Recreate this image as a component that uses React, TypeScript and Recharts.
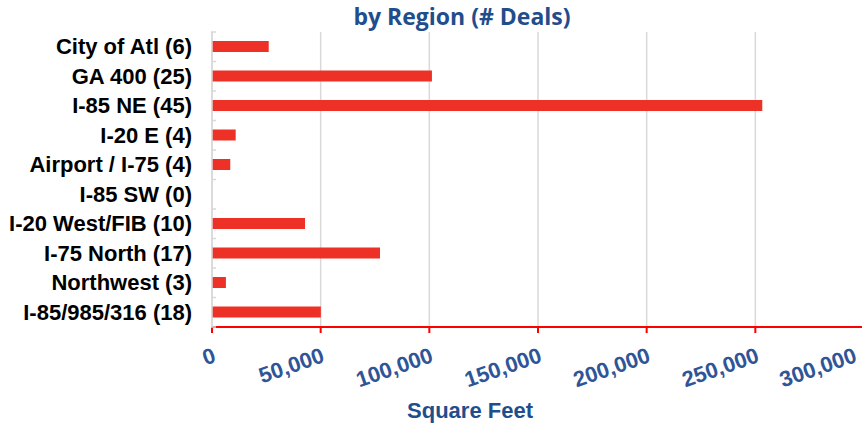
import { BarChart, Bar, XAxis, YAxis, CartesianGrid } from 'recharts';

const regions = [
  'City of Atl (6)',
  'GA 400 (25)',
  'I-85 NE (45)',
  'I-20 E (4)',
  'Airport / I-75 (4)',
  'I-85 SW (0)',
  'I-20 West/FIB (10)',
  'I-75 North (17)',
  'Northwest (3)',
  'I-85/985/316 (18)',
];

const squareFeet = [26100, 101200, 253200, 10900, 8400, 0, 42800, 77300, 6400, 50100];

const xTicks = [0, 50000, 100000, 150000, 200000, 250000, 300000];

const data = regions.map((name, i) => ({ name, sqft: squareFeet[i] }));

const BLUE = '#2F5597';
const DARK_BLUE = '#1F4E8C';
const ARIAL = 'Liberation Sans, Arial, sans-serif';

const RegionTick = ({ x, y, payload, index }: any) => {
  const half = 29.5 / 2;
  const last = index === regions.length - 1;
  return (
    <g>
      <line x1={x + 7} x2={x + 12} y1={y - half} y2={y - half} stroke="#d9d9d9" strokeWidth={1.5} />
      {last && <line x1={x + 7} x2={x + 12} y1={y + half} y2={y + half} stroke="#d9d9d9" strokeWidth={1.5} />}
      <text x={x - 12} y={y} dy="0.34em" textAnchor="end"
        fontFamily={ARIAL} fontWeight={700} fontSize={22} fill="#000">
        {payload.value}
      </text>
    </g>
  );
};

const FeetTick = ({ x, y, payload, index }: any) => {
  // keep the last label inside the page edge
  const tx = index === xTicks.length - 1 ? x - 11 : x;
  return (
    <text x={tx} y={y + 12} textAnchor="end" transform={`rotate(-19, ${tx}, ${y + 12})`} dy="0.7em"
      fontFamily={ARIAL} fontWeight={700} fontSize={22} fill={BLUE}>
      {payload.value.toLocaleString('en-US')}
    </text>
  );
};

export default function App() {
  return (
    <div style={{ width: 862, height: 425, background: '#fff', position: 'relative' }}>
      <style>{`body{margin:0}`}</style>
      <div style={{
        position: 'absolute', top: 0, left: 0, width: 924, textAlign: 'center',
        fontFamily: '"Open Sans", sans-serif', fontWeight: 700, fontSize: 23, color: DARK_BLUE,
      }}>
        by Region (# Deals)
      </div>
      <BarChart width={862} height={425} data={data} layout="vertical"
        margin={{ top: 32, right: -2, left: 0, bottom: 0 }}>
        <CartesianGrid horizontal={false} stroke="#d9d9d9" strokeWidth={1.5} />
        <XAxis type="number" dataKey="sqft" domain={[0, 300000]} ticks={xTicks} interval={0}
          axisLine={{ stroke: '#ff0000', strokeWidth: 2 }} tickLine={{ stroke: '#ff0000', strokeWidth: 2 }}
          tickSize={6} tick={<FeetTick />} height={98} />
        <YAxis type="category" dataKey="name" width={212} interval={0}
          axisLine={{ stroke: '#d9d9d9', strokeWidth: 1.5 }} tickLine={false} tick={<RegionTick />} />
        <Bar dataKey="sqft" fill="#EE3127" barSize={11} isAnimationActive={false} />
      </BarChart>
      <div style={{
        position: 'absolute', top: 398, left: 370, width: 200, textAlign: 'center',
        fontFamily: ARIAL, fontWeight: 700, fontSize: 22, color: DARK_BLUE,
      }}>
        Square Feet
      </div>
    </div>
  );
}
